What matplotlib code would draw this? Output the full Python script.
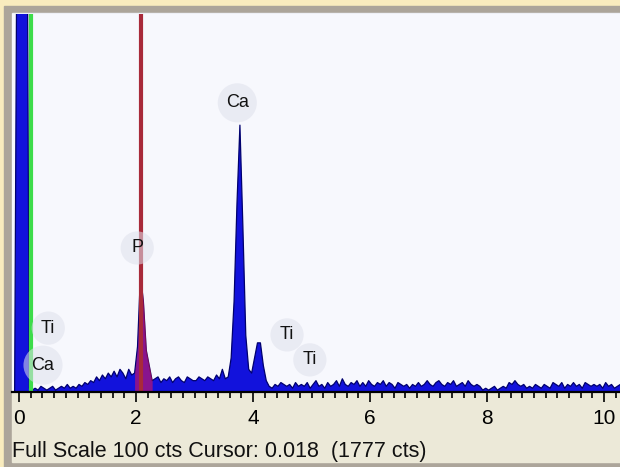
import numpy as np
import matplotlib
matplotlib.use("Agg")
import matplotlib.pyplot as plt
from matplotlib.patches import Rectangle

plt.rcParams['font.family'] = ['Liberation Sans', 'DejaVu Sans']

# spectrum channels, 0.05 keV wide, first channel centre -0.125 keV
e_start = -0.125
e_step = 0.05
counts = [
    0, 0, 160, 1777, 1200, 180, 1, 0.5, 1, 0.5, 1.5, 1, 0.5, 1, 1.5, 0.5, 1, 1.5, 1, 2,          # -0.125 .. 0.825
    1, 1.5, 1, 2, 1.5, 2.5, 2, 3, 2.5, 4, 3, 4.5, 3.5, 5, 4, 5.5, 4, 6, 5, 3.5,                  # 0.875 .. 1.825
    6, 4.5, 5, 12, 31, 24, 11, 7, 3, 3.5, 4, 2.5, 3.5, 3, 4, 2.5, 3.5, 4, 3, 2.5,                # 1.875 .. 2.825
    4, 3.5, 3, 3, 4, 3.5, 3, 4, 3.5, 3, 4.5, 3.5, 6, 3.5, 4, 9, 24, 50, 70.6, 44,                # 2.875 .. 3.825
    15, 6, 5, 9, 13, 13, 7, 3, 1.5, 1, 2, 1.5, 2.5, 2, 1.5, 2, 1, 2.5, 1.5, 2,                   # 3.875 .. 4.825
    1.5, 2.5, 1, 2, 3, 1.5, 2, 1, 2.5, 1.5, 2, 3, 1.5, 3.5, 2, 1.5, 2.5, 2, 3, 1.5,              # 4.875 .. 5.825
    2.5, 1.5, 3, 2, 1.5, 2.5, 2, 3, 1.5, 2.5, 2, 1, 2.5, 2, 1.5, 2, 1, 2, 1.5, 2.5,              # 5.875 .. 6.825
    1.5, 2, 3, 2, 1.5, 2.5, 3, 2, 1.5, 2.5, 2, 3, 1.5, 2, 2.5, 1.5, 3, 2, 1.5, 2,                # 6.875 .. 7.825
    1.5, 0.5, 1, 0.5, 1, 1.5, 0.5, 1, 1.5, 1, 2.5, 2, 3, 2, 1.5, 2, 1, 1.5, 1, 2,                # 7.875 .. 8.825
    1.5, 1, 2, 1.5, 1, 2.5, 2, 1.5, 2.5, 1, 2, 1.5, 2.5, 1.5, 2, 1, 2.5, 2, 1.5, 2,              # 8.875 .. 9.825
    1.5, 2, 1, 2.5, 1.5, 2, 1, 1.5, 2,                                                          # 9.875 .. 10.275
]
energy = np.round(e_start + e_step * np.arange(len(counts)), 3)
counts = np.array(counts, dtype=float)

# element markers: label, energy (keV), height (cts)
labels = ["Ca", "P", "Ti", "Ca", "Ti", "Ti"]
label_x = [3.73, 2.02, 0.50, 0.41, 4.58, 4.97]
label_y = [76.5, 38.1, 16.9, 7.1, 15.1, 8.5]

roi_lo, roi_hi = 1.975, 2.275   # red ROI under P
green_marker = 0.197
red_marker = 2.077
full_scale = 100
status = "Full Scale 100 cts Cursor: 0.018  (1777 cts)"

W, H = 620, 467
def fx(px):
    return px / W
def fy(py):
    return 1 - py / H

fig = plt.figure(figsize=(6.2, 4.67), dpi=100)
fig.patch.set_facecolor('#f9ecbe')

# window frame and status panel
fig.add_artist(Rectangle((fx(4), fy(467)), 1 - fx(4), fy(6) - fy(467),
                         transform=fig.transFigure, color='#aca59a', zorder=0))
fig.add_artist(Rectangle((fx(12), fy(462)), 1 - fx(12), fy(392) - fy(462),
                         transform=fig.transFigure, color='#ece9d8', zorder=0))
fig.add_artist(Rectangle((fx(12), fy(392)), 1 - fx(12), fy(13) - fy(392),
                         transform=fig.transFigure, color='#eef0f6', zorder=0))

ax = fig.add_axes([fx(12), fy(392), 1 - fx(12), fy(14) - fy(392)])
ax.set_facecolor('#f7f8fd')
ax.set_xlim(-0.12, 10.27)
ax.set_ylim(0, full_scale)

ax.fill_between(energy, counts, 0, color='#1212dc', lw=0, zorder=2)
ax.plot(energy, counts, color='#00006e', lw=0.9, zorder=3)
roi = (energy >= roi_lo) & (energy <= roi_hi)
ax.fill_between(energy[roi], counts[roi], 0, color='#ff1744', alpha=0.5, lw=0, zorder=4)

ax.axvline(green_marker, color='#3ddc4a', lw=3, zorder=5)
ax.axvline(red_marker, color='#a82a3a', lw=3, zorder=5)

for lab, x, y in zip(labels, label_x, label_y):
    ax.text(x, y, lab, fontsize=13, ha='center', va='center', color='#111111', zorder=6,
            bbox=dict(boxstyle='circle,pad=0.45', fc='#dfe1ec', ec='none', alpha=0.55))

for s in ['top', 'left', 'right']:
    ax.spines[s].set_visible(False)
ax.spines['bottom'].set_linewidth(1.6)
ax.spines['bottom'].set_zorder(7)
ax.set_yticks([])
ax.set_xticks(np.arange(0, 11, 2))
ax.set_xticks(np.arange(0, 10.3, 0.2), minor=True)
ax.tick_params(axis='x', which='major', length=7.5, width=1.2, direction='out',
               labelsize=15, pad=5, colors='black')
ax.tick_params(axis='x', which='minor', length=4.5, width=1.2, direction='out')

fig.text(fx(12), fy(452), status, fontsize=15.5, ha='left', va='center', color='#111111')

fig.savefig('out.png', dpi=100, facecolor=fig.get_facecolor())
